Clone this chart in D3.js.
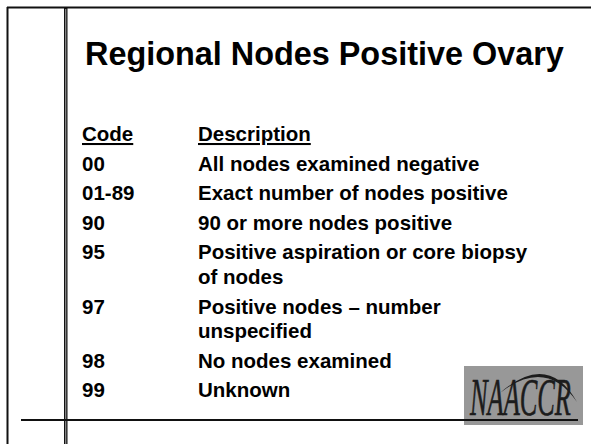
<!DOCTYPE html>
<html>
<head>
<meta charset="utf-8">
<script src="https://cdn.jsdelivr.net/npm/d3@7/dist/d3.min.js"></script>
<style>
  html, body { margin: 0; padding: 0; background: #fff; }
  svg { display: block; }
</style>
</head>
<body>
<script>
// ---- content ----
const title = "Regional Nodes Positive Ovary";
const headers = ["Code", "Description"];
const codes = ["00", "01-89", "90", "95", "97", "98", "99"];
const descriptions = [
  ["All nodes examined negative"],
  ["Exact number of nodes positive"],
  ["90 or more nodes positive"],
  ["Positive aspiration or core biopsy", "of nodes"],
  ["Positive nodes \u2013 number", "unspecified"],
  ["No nodes examined"],
  ["Unknown"]
];
const logoText = "NAACCR";

// ---- layout ----
const W = 591, H = 444;
const svg = d3.select("body").append("svg").attr("width", W).attr("height", H);

// frame lines
svg.append("line").attr("x1", 7).attr("y1", 7.5).attr("x2", W).attr("y2", 7.5)
  .attr("stroke", "#111").attr("stroke-width", 2);
svg.append("line").attr("x1", 7.5).attr("y1", 7).attr("x2", 7.5).attr("y2", H)
  .attr("stroke", "#111").attr("stroke-width", 2);
// inner double vertical line
svg.append("rect").attr("x", 64).attr("y", 7).attr("width", 3.5).attr("height", H - 7).attr("fill", "#111");
svg.append("line").attr("x1", 65.75).attr("y1", 9).attr("x2", 65.75).attr("y2", H)
  .attr("stroke", "#aaa").attr("stroke-width", 1);

const font = "'Liberation Sans', Arial, Helvetica, sans-serif";

// title
svg.append("text").attr("x", 85).attr("y", 65)
  .attr("font-family", font).attr("font-weight", "bold").attr("font-size", 32.4)
  .attr("fill", "#000").text(title);

// table
const colX = [82, 198];
const fs = 20.5;
const headerY = 141;
const rowGap = 29.6, wrapGap = 24.5;

headers.forEach((h, i) => {
  svg.append("text").attr("x", colX[i]).attr("y", headerY)
    .attr("font-family", font).attr("font-weight", "bold").attr("font-size", fs)
    .attr("text-decoration", "underline").attr("fill", "#000").text(h);
});

let y = headerY;
codes.forEach((c, i) => {
  y += rowGap;
  svg.append("text").attr("x", colX[0]).attr("y", y)
    .attr("font-family", font).attr("font-weight", "bold").attr("font-size", fs)
    .attr("fill", "#000").text(c);
  descriptions[i].forEach((line, j) => {
    if (j > 0) y += wrapGap;
    svg.append("text").attr("x", colX[1]).attr("y", y)
      .attr("font-family", font).attr("font-weight", "bold").attr("font-size", fs)
      .attr("fill", "#000").text(line);
  });
});

// logo
const logo = svg.append("g");
logo.append("rect").attr("x", 464).attr("y", 366).attr("width", 119).attr("height", 59).attr("fill", "#989898");
const arc = d3.path();
arc.moveTo(500, 393);
arc.quadraticCurveTo(548, 351, 577, 402);
arc.quadraticCurveTo(546, 357, 500, 393);
logo.append("path").attr("d", arc.toString()).attr("fill", "#1c1c1c");
const lt = logo.append("text")
  .attr("font-family", "'Liberation Serif', 'Times New Roman', serif")
  .attr("font-style", "italic").attr("font-size", 52)
  .attr("stroke", "#1c1c1c").attr("stroke-width", 0.6)
  .attr("fill", "#1c1c1c").text(logoText);
const tw = lt.node().getComputedTextLength();
const sx = 101 / tw;
lt.attr("transform", `translate(470,415) scale(${sx},1)`);

// bottom rule
svg.append("line").attr("x1", 21).attr("y1", 420).attr("x2", 578).attr("y2", 420)
  .attr("stroke", "#111").attr("stroke-width", 2);
</script>
</body>
</html>
